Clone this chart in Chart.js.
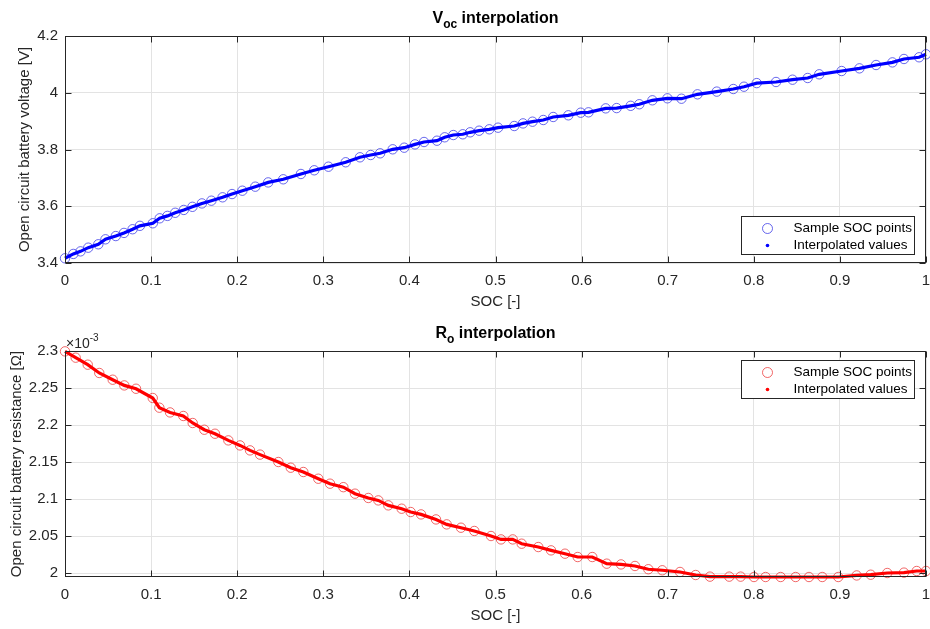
<!DOCTYPE html>
<html>
<head>
<meta charset="utf-8">
<title>Voc / Ro interpolation</title>
<script src="https://cdn.jsdelivr.net/npm/chart.js@4.4.1/dist/chart.umd.min.js"></script>
<style>
    body { margin: 0; background: #fff; }
    canvas { display: block; }
</style>
</head>
<body>
<canvas id="vocChart" width="930" height="315"></canvas>
<canvas id="roChart" width="930" height="314"></canvas>
<script>
// Sample SOC points
const socV = [0, 0.0097, 0.018, 0.027, 0.0387, 0.047, 0.059, 0.0685, 0.0785, 0.087, 0.102, 0.110, 0.119, 0.128, 0.138, 0.148, 0.159, 0.170, 0.183, 0.194, 0.206, 0.221, 0.236, 0.2535, 0.274, 0.2895, 0.306, 0.326, 0.3426, 0.355, 0.366, 0.3806, 0.394, 0.4065, 0.417, 0.432, 0.441, 0.451, 0.462, 0.4706, 0.481, 0.4928, 0.503, 0.5218, 0.532, 0.543, 0.5555, 0.567, 0.5846, 0.599, 0.608, 0.628, 0.6407, 0.657, 0.667, 0.6822, 0.6997, 0.716, 0.7346, 0.757, 0.7762, 0.7886, 0.8034, 0.8258, 0.845, 0.8626, 0.876, 0.902, 0.9227, 0.942, 0.961, 0.9744, 0.992, 1.0];
const vocValues = [3.4166, 3.432, 3.441, 3.454, 3.466, 3.4835, 3.495, 3.506, 3.519, 3.531, 3.540, 3.5575, 3.566, 3.577, 3.587, 3.598, 3.610, 3.6196, 3.6315, 3.643, 3.6548, 3.669, 3.684, 3.695, 3.7137, 3.7267, 3.7394, 3.755, 3.7725, 3.7806, 3.7866, 3.8007, 3.8064, 3.818, 3.8264, 3.831, 3.843, 3.851, 3.8536, 3.8606, 3.8663, 3.8712, 3.8769, 3.8828, 3.892, 3.898, 3.904, 3.9146, 3.9205, 3.9297, 3.931, 3.945, 3.946, 3.954, 3.9595, 3.9734, 3.9804, 3.979, 3.9945, 4.004, 4.0132, 4.0213, 4.034, 4.0379, 4.046, 4.052, 4.065, 4.0766, 4.086, 4.0978, 4.107, 4.119, 4.125, 4.1355];

const socR = [0, 0.0124, 0.0264, 0.0398, 0.0554, 0.0689, 0.0825, 0.1019, 0.1096, 0.122, 0.1374, 0.1483, 0.1618, 0.1742, 0.1897, 0.2033, 0.2149, 0.2265, 0.2478, 0.2622, 0.2768, 0.2942, 0.3078, 0.3233, 0.3368, 0.3523, 0.3639, 0.3755, 0.391, 0.4015, 0.4135, 0.4309, 0.4433, 0.4599, 0.4754, 0.4948, 0.5064, 0.52, 0.5304, 0.5497, 0.5645, 0.5807, 0.5955, 0.6124, 0.6292, 0.6458, 0.662, 0.6775, 0.6937, 0.7143, 0.7325, 0.7491, 0.7715, 0.7847, 0.8002, 0.8137, 0.8312, 0.8486, 0.8641, 0.8795, 0.8981, 0.9195, 0.9358, 0.955, 0.9744, 0.9892, 1.0];
// resistance in units of 1e-3 ohm (axis shows x10^-3)
const roValues = [2.2995, 2.291, 2.2815, 2.2703, 2.2612, 2.2535, 2.249, 2.2365, 2.2234, 2.217, 2.2122, 2.2027, 2.1936, 2.1882, 2.1792, 2.1724, 2.1657, 2.16, 2.15, 2.1423, 2.1365, 2.1274, 2.1207, 2.116, 2.1072, 2.1014, 2.0981, 2.0914, 2.0869, 2.0824, 2.0792, 2.0724, 2.0657, 2.0612, 2.0568, 2.05, 2.0454, 2.0454, 2.0396, 2.0351, 2.0306, 2.0261, 2.0216, 2.0216, 2.0126, 2.0116, 2.0095, 2.0051, 2.0037, 2.0014, 1.9973, 1.9951, 1.9951, 1.9951, 1.9946, 1.9946, 1.9946, 1.9946, 1.9946, 1.9946, 1.9946, 1.9967, 1.9977, 2.0, 2.0005, 2.0027, 2.0027];

const socTicks = [0, 0.1, 0.2, 0.3, 0.4, 0.5, 0.6, 0.7, 0.8, 0.9, 1];
const vocTicks = [3.4, 3.6, 3.8, 4, 4.2];
const roTicks = [2, 2.05, 2.1, 2.15, 2.2, 2.25, 2.3];

const TEXT = '#262626';
const FONT = "'Liberation Sans', Arial, sans-serif";
const fmt = v => String(+(+v).toFixed(3));

// Axes box with inward tick marks on all four sides
const framePlugin = {
    id: 'frame',
    afterDraw(chart) {
        const { ctx, chartArea: a, scales: { x, y } } = chart;
        const L = Math.round(a.left) + 0.5, R = Math.round(a.right) - 0.5;
        const T = Math.round(a.top) + 0.5, B = Math.round(a.bottom) - 0.5;
        ctx.save();
        ctx.strokeStyle = TEXT;
        ctx.lineWidth = 1;
        ctx.strokeRect(L, T, R - L, B - T);
        ctx.beginPath();
        x.ticks.forEach(t => {
            const px = Math.round(x.getPixelForValue(t.value)) + 0.5;
            ctx.moveTo(px, B); ctx.lineTo(px, B - 6);
            ctx.moveTo(px, T); ctx.lineTo(px, T + 6);
        });
        y.ticks.forEach(t => {
            const py = Math.round(y.getPixelForValue(t.value)) + 0.5;
            ctx.moveTo(L, py); ctx.lineTo(L + 6, py);
            ctx.moveTo(R, py); ctx.lineTo(R - 6, py);
        });
        ctx.stroke();

        // Title with subscript
        const o = chart.options.plugins.subTitle;
        ctx.fillStyle = '#000';
        ctx.textBaseline = 'alphabetic';
        const big = `bold 16px ${FONT}`, small = `bold 12px ${FONT}`;
        ctx.font = big; const w1 = ctx.measureText(o.main).width;
        const w3 = ctx.measureText(o.rest).width;
        ctx.font = small; const w2 = ctx.measureText(o.sub).width;
        let tx = (a.left + a.right) / 2 - (w1 + w2 + w3) / 2;
        const ty = a.top - 13;
        ctx.textAlign = 'left';
        ctx.font = big; ctx.fillText(o.main, tx, ty); tx += w1;
        ctx.font = small; ctx.fillText(o.sub, tx, ty + 5); tx += w2;
        ctx.font = big; ctx.fillText(o.rest, tx, ty);

        // Exponent label
        if (o.exponent) {
            ctx.fillStyle = TEXT;
            ctx.font = `14px ${FONT}`;
            ctx.fillText('\u00d710', a.left + 1, a.top - 3);
            const ew = ctx.measureText('\u00d710').width;
            ctx.font = `10px ${FONT}`;
            ctx.fillText(o.exponent, a.left + 1 + ew, a.top - 10);
        }

        // Legend box
        const lg = chart.options.plugins.boxLegend;
        const bw = 173, bh = 38;
        const bx = Math.round(a.right - 12 - bw) + 0.5;
        const by = Math.round(lg.where === 'bottom' ? a.bottom - 9 - bh : a.top + 9) + 0.5;
        ctx.fillStyle = '#fff';
        ctx.fillRect(bx, by, bw, bh);
        ctx.strokeStyle = TEXT;
        ctx.strokeRect(bx, by, bw, bh);
        const ds = chart.data.datasets;
        const circle = ds.find(d => d.showLine === false);
        const line = ds.find(d => d.showLine !== false);
        ctx.font = `13.5px ${FONT}`;
        ctx.fillStyle = '#000';
        ctx.textBaseline = 'middle';
        ctx.fillText(circle.label, bx + 52, by + 12);
        ctx.fillText(line.label, bx + 52, by + 29);
        ctx.beginPath();
        ctx.arc(bx + 26, by + 12, 5, 0, Math.PI * 2);
        ctx.strokeStyle = circle.pointBorderColor;
        ctx.stroke();
        ctx.beginPath();
        ctx.arc(bx + 26, by + 29, 1.8, 0, Math.PI * 2);
        ctx.fillStyle = line.borderColor;
        ctx.fill();
        ctx.restore();
    }
};

function makeChart(id, xs, ys, color, ring, yMin, yMax, yTicks, yLabel, labelPad, title, legendPos) {
    const pts = xs.map((x, i) => ({ x: x, y: ys[i] }));
    return new Chart(document.getElementById(id), {
        type: 'line',
        data: {
            datasets: [
                {
                    label: 'Interpolated values',
                    data: pts,
                    borderColor: color,
                    borderWidth: 3.2,
                    pointRadius: 0,
                    tension: 0,
                    clip: false,
                    order: 0
                },
                {
                    label: 'Sample SOC points',
                    data: pts,
                    showLine: false,
                    pointRadius: 4.7,
                    pointBorderWidth: 1,
                    pointBorderColor: ring,
                    pointBackgroundColor: 'rgba(0,0,0,0)',
                    clip: false,
                    order: 1
                }
            ]
        },
        options: {
            responsive: false,
            animation: false,
            events: [],
            layout: { autoPadding: false, padding: { top: 36, right: 4, left: 0, bottom: 0 } },
            plugins: {
                legend: { display: false },
                tooltip: { enabled: false },
                subTitle: title,
                boxLegend: { where: legendPos }
            },
            scales: {
                x: {
                    type: 'linear',
                    min: 0,
                    max: 1,
                    afterBuildTicks: s => { s.ticks = socTicks.map(v => ({ value: v })); },
                    afterFit: s => { s.height = 52; s.paddingLeft = 0; s.paddingRight = 0; },
                    ticks: {
                        autoSkip: false,
                        maxRotation: 0,
                        padding: 9,
                        color: TEXT,
                        font: { family: FONT, size: 15 },
                        callback: fmt
                    },
                    grid: { color: '#e3e3e3', drawTicks: false },
                    border: { display: false },
                    title: {
                        display: true,
                        text: 'SOC [-]',
                        color: TEXT,
                        font: { family: FONT, size: 15 },
                        padding: { top: 2, bottom: 4 }
                    }
                },
                y: {
                    min: yMin,
                    max: yMax,
                    afterBuildTicks: s => { s.ticks = yTicks.map(v => ({ value: v })); },
                    afterFit: s => { s.width = 65; s.paddingTop = 0; s.paddingBottom = 0; },
                    ticks: {
                        autoSkip: false,
                        padding: 7,
                        color: TEXT,
                        font: { family: FONT, size: 15 },
                        callback: fmt
                    },
                    grid: { color: '#e3e3e3', drawTicks: false },
                    border: { display: false },
                    title: {
                        display: true,
                        text: yLabel,
                        color: TEXT,
                        font: { family: FONT, size: 15 },
                        padding: { top: labelPad, bottom: 0 }
                    }
                }
            }
        },
        plugins: [framePlugin]
    });
}

makeChart('vocChart', socV, vocValues, '#0000ff', 'rgba(40,40,230,0.7)',
    3.4, 4.2, vocTicks, 'Open circuit battery voltage [V]', 16,
    { main: 'V', sub: 'oc', rest: ' interpolation' }, 'bottom');

makeChart('roChart', socR, roValues, '#ff0000', 'rgba(235,40,40,0.7)',
    1.9946, 2.3, roTicks, 'Open circuit battery resistance [\u03a9]', 8,
    { main: 'R', sub: 'o', rest: ' interpolation', exponent: '-3' }, 'top');
</script>
</body>
</html>
